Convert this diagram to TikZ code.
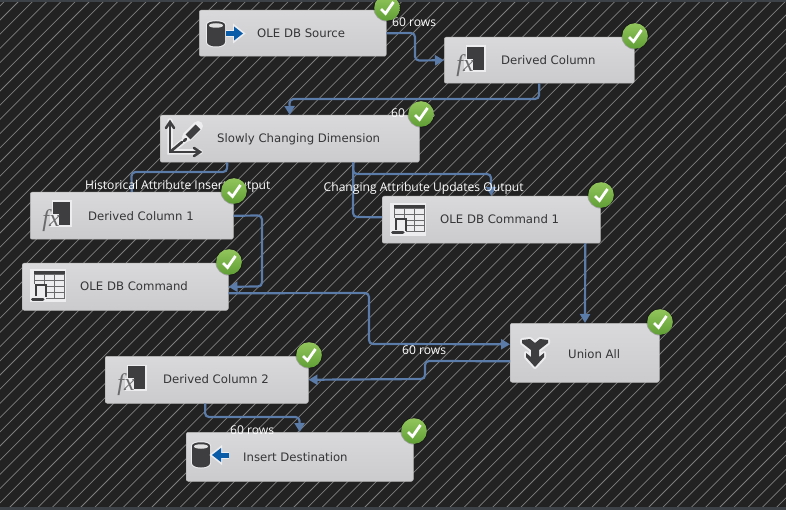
\documentclass[tikz,border=0pt]{standalone}
\usepackage{fontspec}
\setmainfont{DejaVu Sans}
\newfontfamily\lblfont{Open Sans}
\newfontfamily\fxfont{Liberation Serif}
\usetikzlibrary{arrows.meta,calc}
\definecolor{bgdark}{HTML}{222222}
\definecolor{hatchc}{HTML}{7E7E7E}
\definecolor{barc}{HTML}{3D4248}
\definecolor{flowc}{HTML}{5B7BA8}
\definecolor{icond}{HTML}{3E3E40}
\definecolor{gridc}{HTML}{6A6A6C}
\definecolor{blueic}{HTML}{0A5CA8}
\definecolor{txtc}{HTML}{353537}
\definecolor{halo}{HTML}{EDEDEF}
\definecolor{oktop}{HTML}{93C65C}
\definecolor{okbot}{HTML}{5F9E35}
\definecolor{boxtop}{HTML}{D9D9DB}
\definecolor{boxbot}{HTML}{CBCBCD}
\tikzset{
  box/.style={draw=white!72!black,line width=.5pt,rounded corners=2pt,top color=boxtop,bottom color=boxbot,inner sep=0pt,anchor=north west},
  boxtext/.style={anchor=west,inner sep=0pt,text=txtc,font=\fontsize{11.7}{13}\selectfont},
  flow/.style={draw=flowc,line width=2.2pt,rounded corners=4pt},
  flowtip/.style={flow,-{Triangle[length=9pt,width=10pt]}},
  linklabel/.style={anchor=west,inner sep=0pt,text=white,font=\lblfont\fontsize{12.1}{14}\selectfont},
  okmark/.pic={
    \fill[black,opacity=.25] (0,0) circle (13.6pt);
    \shade[top color=oktop,bottom color=okbot] (0,0) circle (12.8pt);
    \draw[white,line width=2.8pt] (-6,1) -- (-1.5,5.5) -- (6.5,-6);
  },
  dbbody/.pic={
    \draw[halo,line width=2pt,fill=halo] (0,3) -- (0,20) .. controls (0,26) and (18,26) .. (18,20) -- (18,3) .. controls (18,-2) and (0,-2) .. (0,3) -- cycle;
    \fill[icond] (0,3) -- (0,20) .. controls (0,26) and (18,26) .. (18,20) -- (18,3) .. controls (18,-2) and (0,-2) .. (0,3) -- cycle;
    \fill[white!88!black] (2,3.5) .. controls (2,0.5) and (16,0.5) .. (16,3.5) .. controls (16,6.5) and (2,6.5) .. (2,3.5) -- cycle;
  },
  fxicon/.pic={
    \fill[halo] (-1.5,-1.5) rectangle (18.5,25);
    \fill[icond] (0,0) rectangle (17,23);
    \fill[halo] (-3,12) rectangle (6,25);
    \node[inner sep=0pt,text=gridc,font=\fxfont\itshape\fontsize{24}{24}\selectfont] at (-2,19) {fx};
  },
  tableicon/.pic={
    \fill[halo] (-2,-2) rectangle (34,31);
    \fill[icond] (2,0) rectangle (33,4.5);
    \draw[gridc,line width=1pt] (2,4) rectangle (32.5,27);
    \foreach \gx in {12,22} \draw[gridc,line width=1pt] (\gx,4) -- (\gx,27);
    \foreach \gy in {10,15.5,21} \draw[gridc,line width=1pt] (2,\gy) -- (32.5,\gy);
    \fill[halo] (-2,13) rectangle (14,31);
    \draw[icond,line width=1.5pt] (4,25) -- (4,14) -- (14,14) -- (14,26);
    \draw[icond,line width=3pt,line cap=round] (0.5,28) -- (11,28);
  },
  scdicon/.pic={
    \begin{scope}[line cap=round]
    \draw[halo,line width=5.5pt] (10,-1) -- (10,30) -- (40,30) (10,30) -- (25,18);
    \draw[halo,line width=10pt] (27,15) -- (38,4);
    \draw[icond,line width=2.6pt] (10,1) -- (10,30) -- (38,30);
    \draw[icond,line width=2.6pt] (10,30) -- (22,20);
    \draw[icond,line width=2.6pt] (6,6) -- (10,0) -- (14,6);
    \draw[icond,line width=2.6pt] (34,26) -- (40,30) -- (34,34);
    \draw[icond,line width=7pt,line cap=butt] (28,15) -- (38,5);
    \draw[icond,line width=2.6pt] (24,19) -- (26,17);
    \end{scope}
  },
  unionicon/.pic={
    \def\ushape{(0,3) -- (8,2) -- (13,6) -- (18,2) -- (26,3) -- (26,6) -- (17,13) -- (17,20) -- (22,16) -- (22,20) -- (13,30) -- (4,20) -- (4,16) -- (9,20) -- (9,13) -- (0,6) -- cycle}
    \draw[halo,line width=4pt,line join=round,fill=halo] \ushape;
    \fill[icond] \ushape;
  }
}
\begin{document}
\begin{tikzpicture}[x=1pt,y=-1pt]
\useasboundingbox (0,0) rectangle (786,510);
\begin{scope}
\clip (0,0) rectangle (786,510);
\fill[bgdark] (0,0) rectangle (786,510);
\foreach \n in {0,...,92} {
  \draw[hatchc,line width=.75pt] ({5.8+14.2*\n},0) -- ({5.8+14.2*\n-520},520);
}
\fill[barc] (0,0) rectangle (786,2.5);
\fill[barc] (0,507) rectangle (786,510);
\end{scope}

% components
\node[box,minimum width=187pt,minimum height=46pt] (src) at (199,10) {};
\node[box,minimum width=190pt,minimum height=46pt] (dc) at (444,37) {};
\node[box,minimum width=259pt,minimum height=47pt] (scd) at (160,115) {};
\node[box,minimum width=203pt,minimum height=47pt] (dc1) at (30,192) {};
\node[box,minimum width=206pt,minimum height=47pt] (cmd) at (22,263) {};
\node[box,minimum width=218pt,minimum height=47pt] (cmd1) at (382,196) {};
\node[box,minimum width=149pt,minimum height=59pt] (uni) at (510,323) {};
\node[box,minimum width=203pt,minimum height=47pt] (dc2) at (105,356) {};
\node[box,minimum width=227pt,minimum height=49pt] (dest) at (186,432) {};

% connectors
\draw[flowtip] (src.east) -- (415,33) -- (415,60.5) -- (dc.west);
\draw[flowtip] (dc.south) -- (539,99) -- (289.5,99) -- (scd.north);
\draw[flow] ([xshift=-62.5pt]scd.south) -- (227,172) -- (131.5,172) -- (dc1.north);
\draw[flowtip] ([xshift=63.5pt]scd.south) -- (353,174) -- (491,174) -- (cmd1.north);
\draw[flow] ([xshift=63.5pt]scd.south) -- (353,217) -- ([yshift=2.5pt]cmd1.west);
\draw[flowtip] (dc1.east) -- (262,215.5) -- (262,286.5) -- (cmd.east);
\draw[flowtip] ([yshift=-6.5pt]cmd.east) -- (369,293) -- (369,344) -- ([yshift=8.5pt]uni.west);
\draw[flowtip] ([xshift=94pt]cmd1.south) -- (585,323);
\draw[flowtip] ([yshift=-8.5pt]uni.west) -- (425,361) -- (425,379) -- (dc2.east);
\draw[flowtip] ([xshift=-1.5pt]dc2.south) -- (205,417) -- (299.5,417) -- (dest.north);

% captions
\node[boxtext] (t1) at (257,33.5) {OLE DB Source};
\node[boxtext] (t2) at (501,60.5) {Derived Column};
\node[boxtext] (t3) at (217,139.5) {Slowly Changing Dimension};
\node[boxtext] (t4) at (88,216.5) {Derived Column 1};
\node[boxtext] (t5) at (80,286.5) {OLE DB Command};
\node[boxtext] (t6) at (440,219.5) {OLE DB Command 1};
\node[boxtext] (t7) at (568,354.5) {Union All};
\node[boxtext] (t8) at (163,379.5) {Derived Column 2};
\node[boxtext] (t9) at (243,457.5) {Insert Destination};

% icons
\pic at (207,22) {dbbody};
\draw[halo,line width=7pt] (226,34) -- (235,34);
\draw[halo,line width=2pt,fill=halo] (234,25.5) -- (244,33.5) -- (234,41.5) -- cycle;
\draw[blueic,line width=5pt] (226,33.5) -- (236,33.5);
\fill[blueic] (234,26.5) -- (243,33.5) -- (234,40.5) -- cycle;
\pic at (192,443) {dbbody};
\draw[halo,line width=7pt] (229,455) -- (220,455);
\draw[halo,line width=2pt,fill=halo] (221,447) -- (211,455) -- (221,463) -- cycle;
\draw[blueic,line width=5pt] (229,455) -- (219,455);
\fill[blueic] (221,448) -- (212,455) -- (221,462) -- cycle;
\pic at (467,47) {fxicon};
\pic at (53,202) {fxicon};
\pic at (128,366) {fxicon};
\pic at (32,271) {tableicon};
\pic at (392,205) {tableicon};
\pic at (160,122) {scdicon};
\pic at (522,337) {unionicon};

% link labels
\node[linklabel] (l1) at (392,22.5) {60 rows};
\node[linklabel] (l2) at (391,113.5) {60 rows};
\node[linklabel] (l3) at (85,186) {Historical Attribute Insert Output};
\node[linklabel] (l4) at (323.5,188) {Changing Attribute Updates Output};
\node[linklabel] (l5) at (402,350) {60 rows};
\node[linklabel] (l6) at (230,430.5) {60 rows};

% validation marks
\foreach \cx/\cy in {387/8,635/36,421/114,234/191,229/262,601/195,660/322,309/355,414/431}
  \pic at (\cx,\cy) {okmark};
\end{tikzpicture}
\end{document}
